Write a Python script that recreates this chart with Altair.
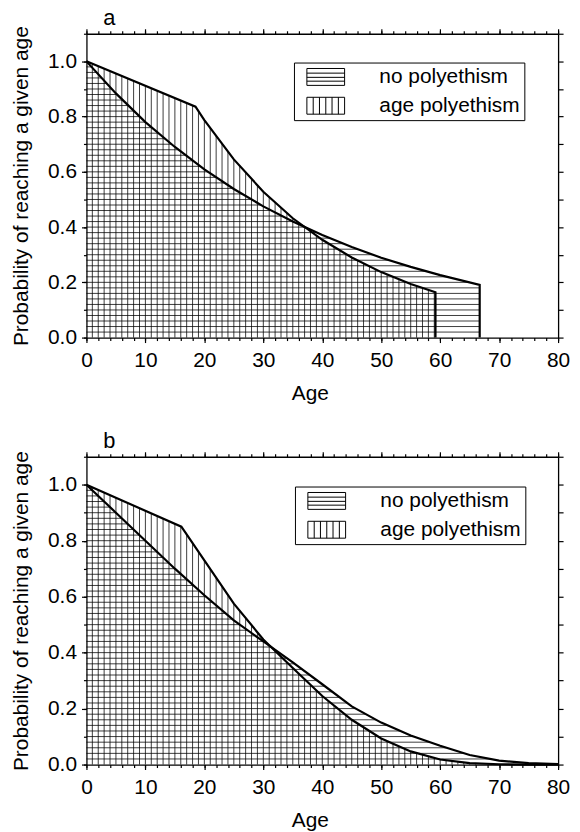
import altair as alt
import numpy as np
import pandas as pd

FONT = "Liberation Sans"

# ---------------- data ----------------
# panel a
a_no_age = [0, 5, 10, 15, 20, 25, 30, 35, 40, 45, 50, 55, 60, 66.7, 66.7]
a_no_val = [1.0, 0.884, 0.780, 0.690, 0.609, 0.538, 0.475, 0.420, 0.371, 0.328, 0.289, 0.256, 0.226, 0.191, 0.0]
a_ap_age = [0, 18.5, 20, 25, 30, 35, 40, 45, 50, 55, 59.2, 59.2]
a_ap_val = [1.0, 0.836, 0.787, 0.645, 0.528, 0.432, 0.354, 0.290, 0.237, 0.194, 0.164, 0.0]

# panel b
b_no_age = [0, 5, 10, 15, 20, 25, 30, 35, 40, 45, 50, 55, 60, 65, 70, 75, 80]
b_no_val = [1.0, 0.90, 0.80, 0.70, 0.605, 0.515, 0.44, 0.365, 0.287, 0.208, 0.150, 0.104, 0.067, 0.034, 0.014, 0.005, 0.002]
b_ap_age = [0, 16.1, 20, 25, 30, 35, 40, 45, 50, 55, 60, 65, 70, 75, 80]
b_ap_val = [1.0, 0.85, 0.73, 0.575, 0.447, 0.345, 0.245, 0.16, 0.093, 0.047, 0.018, 0.005, 0.001, 0.0, 0.0]

panel_labels = ["a", "b"]
series_names = ["no polyethism", "age polyethism"]
x_major = list(range(0, 81, 10))
x_minor = list(range(0, 81, 2))
y_major = [0.0, 0.2, 0.4, 0.6, 0.8, 1.0]
y_tenths = [round(i * 0.1, 1) for i in range(12)]

# legend swatch shapes (hatched boxes)
U = 3.47
PATH_H = f"M-1,-1H{U}V1H-1Z M-1,-0.45H{U} M-1,0.05H{U} M-1,0.5H{U}"
vx = [-1 + (U + 1) * k / 6 for k in range(1, 6)]
PATH_V = f"M-1,-1H{U}V1H-1Z " + " ".join(f"M{v:.2f},-1V1" for v in vx)


def axis_style(**kw):
    base = dict(domainColor="black", domainWidth=1.3, tickColor="black", tickWidth=1.2,
                labelFont=FONT, labelFontSize=21, labelColor="black", grid=False,
                titleFont=FONT, titleFontSize=21, titleFontWeight="normal", titleColor="black")
    base.update(kw)
    return alt.Axis(**base)


def panel(label, no_age, no_val, ap_age, ap_val, height, lx, ly):
    # curves
    rows = []
    for name, ag, vl in [(series_names[0], no_age, no_val), (series_names[1], ap_age, ap_val)]:
        for i, (a_, v_) in enumerate(zip(ag, vl)):
            rows.append({"series": name, "age": a_, "value": v_, "idx": i})
    curves = pd.DataFrame(rows)

    # hatch: vertical lines under the age-polyethism curve
    ap_a = np.array(ap_age, float)
    ap_v = np.array(ap_val, float)
    keep = np.concatenate([[True], np.diff(ap_a) > 0])
    ap_a, ap_v = ap_a[keep], ap_v[keep]
    ks = np.arange(1, int(np.floor(ap_a.max())) + 1)
    tops = np.interp(ks, ap_a, ap_v)
    vdf = pd.DataFrame({"age": ks, "y0": 0.0, "top": tops})
    vdf = vdf[vdf["top"] > 0.004]

    # hatch: horizontal lines under the no-polyethism curve
    no_a = np.array(no_age, float)
    no_v = np.array(no_val, float)
    keep = np.concatenate([[True], np.diff(no_a) > 0])
    no_a, no_v = no_a[keep], no_v[keep]
    levels = np.round(np.arange(0.02, 1.0, 0.02), 3)
    xend = np.interp(levels, no_v[::-1], no_a[::-1])
    hdf = pd.DataFrame({"level": levels, "x0": 0.0, "xend": xend})

    xs = alt.Scale(domain=[0, 80], nice=False, zero=False)
    ys = alt.Scale(domain=[0, 1.1], nice=False, zero=False)

    vrules = alt.Chart(vdf).mark_rule(color="black", strokeWidth=0.9, opacity=0.85).encode(
        x=alt.X("age:Q", scale=xs, axis=axis_style(orient="bottom", values=x_major, tickSize=5,
                                                     labelPadding=7, format="d", title="Age",
                                                     titlePadding=12, titleX=225, labelFlush=False)),
        y=alt.Y("y0:Q", scale=ys, axis=axis_style(orient="left", values=y_major, tickSize=5,
                                                    labelPadding=5, format=".1f",
                                                    title="Probability of reaching a given age",
                                                    titlePadding=16)),
        y2="top:Q",
    )

    hrules = alt.Chart(hdf).mark_rule(color="black", strokeWidth=0.9, opacity=0.85).encode(
        x=alt.X("x0:Q", scale=xs, axis=axis_style(orient="bottom", values=x_minor, tickSize=3,
                                                    labels=False, domain=False, title=None)),
        x2="xend:Q",
        y=alt.Y("level:Q", scale=ys, axis=axis_style(orient="left", values=y_tenths, tickSize=3,
                                                       labels=False, domain=False, title=None)),
    )

    lines = alt.Chart(curves).mark_line(color="black", strokeWidth=2.2).encode(
        x=alt.X("age:Q", scale=xs, axis=axis_style(orient="top", values=x_major, tickSize=5,
                                                     labels=False, title=None)),
        y=alt.Y("value:Q", scale=ys, axis=axis_style(orient="right", values=y_tenths,
                                                       tickSize=5, labels=False, title=None)),
        detail="series:N",
        order="idx:Q",
    )

    keys = alt.Chart(curves).mark_point(color="black", opacity=0, strokeWidth=1).encode(
        x=alt.X("age:Q", scale=xs, axis=axis_style(orient="top", values=x_minor, tickSize=3,
                                                     labels=False, domain=False, title=None)),
        y=alt.Y("value:Q", scale=ys, axis=None),
        shape=alt.Shape("series:N",
                        scale=alt.Scale(domain=series_names, range=[PATH_H, PATH_V]),
                        legend=alt.Legend(title=None, orient="none", legendX=lx, legendY=ly,
                                          labelFont=FONT, labelFontSize=21, labelColor="black",
                                          strokeColor="black", padding=4, rowPadding=7,
                                          symbolSize=289, symbolStrokeColor="black",
                                          symbolFillColor="white", symbolStrokeWidth=1,
                                          symbolOpacity=1, labelOffset=54, symbolOffset=7)),
    )

    tag = alt.Chart(pd.DataFrame({"label": [label]})).mark_text(
        align="left", baseline="alphabetic", fontSize=22, font=FONT, color="black"
    ).encode(x=alt.value(17), y=alt.value(-9), text="label:N")

    return alt.layer(vrules, hrules, lines, keys, tag).resolve_axis(
        x="independent", y="independent"
    ).properties(width=475, height=height)


pa = panel(panel_labels[0], a_no_age, a_no_val, a_ap_age, a_ap_val, 306, 209, 29)
pb = panel(panel_labels[1], b_no_age, b_no_val, b_ap_age, b_ap_val, 310, 210, 30)

chart = alt.vconcat(pa, pb, spacing=27).resolve_legend(shape="independent").resolve_scale(
    shape="independent"
).properties(
    padding={"left": 2, "top": -4, "right": 2, "bottom": 0}, background="white"
).configure_view(stroke=None)

chart.save("out.html", embed_options={"renderer": "svg", "actions": False})
